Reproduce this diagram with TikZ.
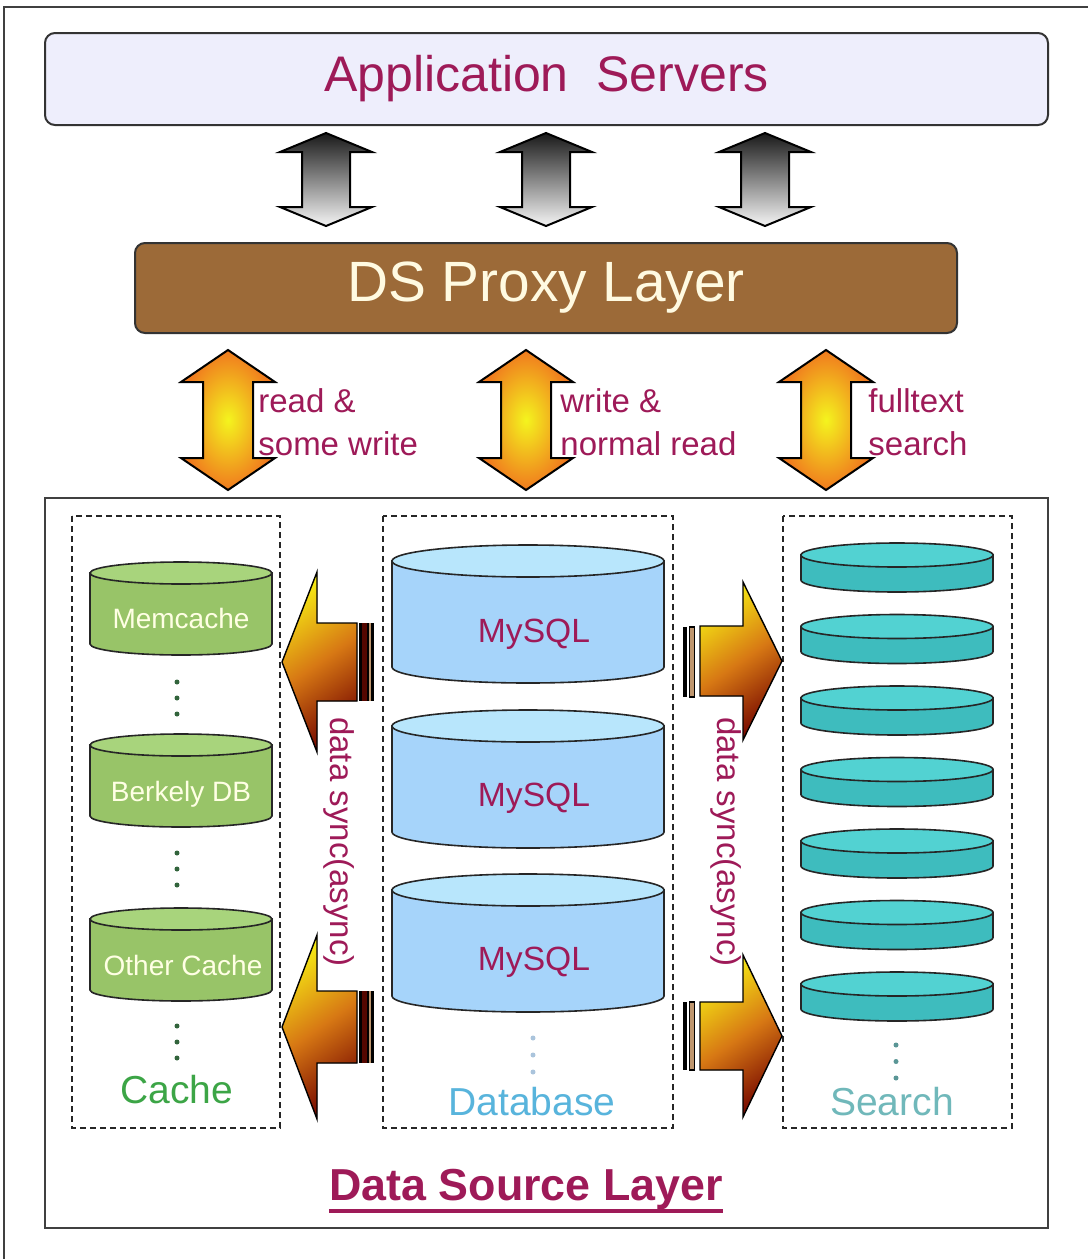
\documentclass[tikz,border=0pt]{standalone}
\usepackage{fontspec}
\setmainfont{Liberation Sans}
\definecolor{txtmaroon}{RGB}{158,26,88}
\definecolor{appfill}{RGB}{238,238,252}
\definecolor{proxyfill}{RGB}{156,106,56}
\definecolor{proxytext}{RGB}{255,250,225}
\definecolor{cachebody}{RGB}{152,196,104}
\definecolor{cachetop}{RGB}{168,212,124}
\definecolor{cachetext}{RGB}{255,255,228}
\definecolor{cachegreen}{RGB}{60,165,70}
\definecolor{cachedots}{RGB}{50,100,60}
\definecolor{dbbody}{RGB}{166,212,250}
\definecolor{dbtop}{RGB}{184,230,252}
\definecolor{dbblue}{RGB}{88,180,220}
\definecolor{dbdots}{RGB}{170,196,220}
\definecolor{srchbody}{RGB}{62,188,190}
\definecolor{srchtop}{RGB}{82,210,210}
\definecolor{srchlabel}{RGB}{112,184,186}
\definecolor{srchdots}{RGB}{90,150,150}
\definecolor{syncyellow}{RGB}{245,232,20}
\definecolor{syncorange}{RGB}{215,120,20}
\definecolor{syncred}{RGB}{120,10,0}
\definecolor{tanbar}{RGB}{190,150,110}
\definecolor{arrowyellow}{RGB}{244,244,30}
\definecolor{arroworange}{RGB}{240,122,30}

\newcommand{\vdarrow}[7]{%
  \filldraw[#7] (#1,-#2) -- (#1+#4,-#2-#5) -- (#1+#6,-#2-#5) -- (#1+#6,-#3+#5) -- (#1+#4,-#3+#5) -- (#1,-#3)
    -- (#1-#4,-#3+#5) -- (#1-#6,-#3+#5) -- (#1-#6,-#2-#5) -- (#1-#4,-#2-#5) -- cycle;}
\newcommand{\dsdrum}[7]{%
  \filldraw[drumline, fill=#6] (#1-#3,-#2) -- (#1-#3,-#2-#5) arc[start angle=180, end angle=360, x radius=#3, y radius=#4] -- (#1+#3,-#2) -- cycle;
  \filldraw[drumline, fill=#7] (#1,-#2) ellipse[x radius=#3, y radius=#4];}
\newcommand{\syncarrow}[6]{%
  \filldraw[syncarrow] (#1,-#4) -- (#2,-#4+#5) -- (#2,-#4+#6) -- (#3,-#4+#6) -- (#3,-#4-#6) -- (#2,-#4-#6) -- (#2,-#4-#5) -- cycle;}

\tikzset{
  appbox/.style={draw=black!80, line width=1pt, rounded corners=5pt, fill=appfill, minimum width=501.5pt, minimum height=46pt, text=txtmaroon, font=\fontsize{25}{30}\selectfont},
  proxybox/.style={draw=black!80, line width=1pt, rounded corners=5pt, fill=proxyfill, minimum width=411pt, minimum height=45pt, text=proxytext, font=\fontsize{28.4}{32}\selectfont},
  grayarrow/.style={draw=black, line width=1pt, top color=black!90, bottom color=black!4},
  orangearrow/.style={draw=black, line width=1pt, inner color=arrowyellow, outer color=arroworange},
  flowlbl/.style={text=txtmaroon, font=\fontsize{16.5}{21.5}\selectfont, align=left, inner sep=0pt, anchor=north west},
  colbox/.style={draw=black!85, line width=0.6pt, dash pattern=on 3pt off 2pt},
  drumline/.style={draw=black!85, line width=0.8pt},
  syncarrow/.style={draw=black, line width=0.7pt, top color=syncyellow, bottom color=syncred, middle color=syncorange, shading angle=35},
  drumtxt/.style={text=cachetext, font=\fontsize{14}{16}\selectfont, anchor=base},
  sqltxt/.style={text=txtmaroon, font=\fontsize{16.8}{20}\selectfont, anchor=base},
  collbl/.style={font=\fontsize{19.5}{22}\selectfont, anchor=base},
  synclbl/.style={text=txtmaroon, font=\fontsize{16.5}{20}\selectfont, rotate=-90},
}

\begin{document}
\begin{tikzpicture}[x=0.5pt, y=0.5pt]
\useasboundingbox (0,0) rectangle (1088,-1259);
\draw[line width=1pt, black!75] (4,-1259) -- (4,-7) -- (1088,-7);

\node[appbox] (app) at (546.5,-79) {Application\ \ Servers};
\foreach \cx in {326,546,765} {
  \vdarrow{\cx}{133}{226}{46}{19}{24}{grayarrow}
}
\node[proxybox] (proxy) at (546,-288) {DS Proxy Layer};

\foreach \cx in {228,526,826} {
  \vdarrow{\cx}{350}{490}{47}{32}{25}{orangearrow}
}
\node[flowlbl] (lblread) at (258,-388) {read \&\\some write};
\node[flowlbl] (lblwrite) at (560,-388) {write \&\\normal read};
\node[flowlbl] (lblfull) at (868,-388) {fulltext\\search};

\draw[line width=1pt, black!75, fill=white] (45,-498) rectangle (1048,-1228);
\draw[colbox] (72,-516) rectangle (280,-1128);
\draw[colbox] (383,-516) rectangle (673,-1128);
\draw[colbox] (783,-516) rectangle (1012,-1128);

\dsdrum{181}{573}{91}{11}{71}{cachebody}{cachetop}
\dsdrum{181}{745}{91}{11}{71}{cachebody}{cachetop}
\dsdrum{181}{919}{91}{11}{71}{cachebody}{cachetop}
\node[drumtxt] (memcache) at (181,-628) {Memcache};
\node[drumtxt] (berkely) at (181,-801) {Berkely DB};
\node[drumtxt] (othercache) at (183,-975) {Other Cache};
\foreach \y in {682,853,1026} {
  \foreach \d in {0,1,2} \fill[cachedots] (177,-\y-16*\d) circle[radius=2.5];
}
\node[collbl, text=cachegreen] (cachelbl) at (177,-1103) {Cache};

\foreach \y in {561,726,890} {
  \dsdrum{528}{\y}{136}{16}{106}{dbbody}{dbtop}
}
\node[sqltxt] (mysqla) at (534,-642) {MySQL};
\node[sqltxt] (mysqlb) at (534,-806) {MySQL};
\node[sqltxt] (mysqlc) at (534,-970) {MySQL};
\foreach \d in {0,1,2} \fill[dbdots] (533,-1038-17*\d) circle[radius=2.5];
\node[collbl, text=dbblue] (dblbl) at (532,-1115) {Database};

\foreach \i in {0,...,6} {
  \pgfmathsetmacro\yy{555+71.5*\i}
  \dsdrum{897}{\yy}{96}{12}{25}{srchbody}{srchtop}
}
\foreach \d in {0,1,2} \fill[srchdots] (896,-1045-16.5*\d) circle[radius=2.5];
\node[collbl, text=srchlabel] (srchlbl) at (892,-1115) {Search};

\syncarrow{282}{317}{357}{662}{90}{39}
\syncarrow{282}{317}{357}{1027}{92}{36}
\syncarrow{782}{743}{700}{661}{79}{35}
\syncarrow{782}{743}{700}{1036}{81}{34}
\foreach \cy/\sh in {662/39,1027/36} {
  \fill[black] (359,-\cy+\sh) rectangle (362,-\cy-\sh);
  \fill[syncred!70!black] (362,-\cy+\sh) rectangle (367,-\cy-\sh);
  \fill[black] (367,-\cy+\sh) rectangle (369,-\cy-\sh);
  \fill[tanbar] (369,-\cy+\sh) rectangle (371,-\cy-\sh);
  \fill[black] (371,-\cy+\sh) rectangle (374,-\cy-\sh);
}
\foreach \cy/\sh in {662/35,1036/34} {
  \fill[black] (683,-\cy+\sh) rectangle (687,-\cy-\sh);
  \filldraw[fill=tanbar, draw=black, line width=0.6pt] (689.5,-\cy+\sh) rectangle (694.5,-\cy-\sh);
}
\node[synclbl] (syncleft) at (339,-842) {data sync(async)};
\node[synclbl] (syncright) at (726,-842) {data sync(async)};

\node[text=txtmaroon, font=\fontsize{22.4}{26}\bfseries, inner sep=0pt, anchor=base] (dsl) at (526,-1200) {Data Source Layer};
\draw[txtmaroon, line width=2pt] ([yshift=-5.5pt]dsl.base west) -- ([yshift=-5.5pt]dsl.base east);
\end{tikzpicture}
\end{document}
